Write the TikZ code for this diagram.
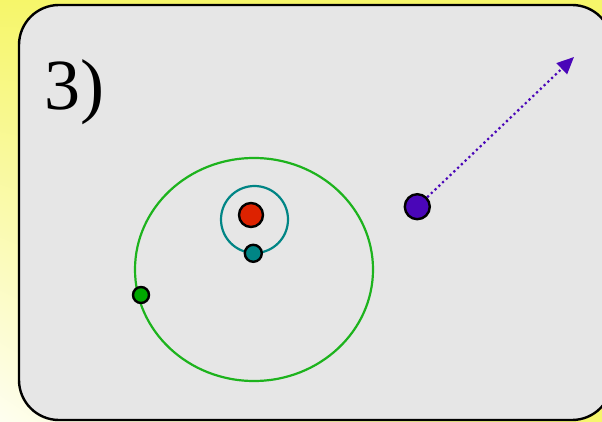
\documentclass[tikz,border=0pt]{standalone}
\usepackage{fontspec}
\setmainfont{Liberation Serif}
\usetikzlibrary{arrows.meta,shadings}
\definecolor{bgyel}{HTML}{F6F66A}
\definecolor{bgpale}{HTML}{FEFEF0}
\definecolor{panel}{HTML}{E6E6E6}
\definecolor{orbgreen}{HTML}{1DB31D}
\definecolor{dotgreen}{HTML}{00A800}
\definecolor{tealc}{HTML}{008585}
\definecolor{redc}{HTML}{DD2200}
\definecolor{purp}{HTML}{4A06B8}
\begin{document}
\begin{tikzpicture}[x=1pt,y=-1pt,
  orbit/.style={line width=2.2pt},
  body/.style={circle,draw=black,line width=2.4pt,inner sep=0pt},
  label3/.style={font=\fontsize{72}{72}\selectfont,inner sep=0pt}]
\useasboundingbox (0,0) rectangle (602,422);
\shade[upper left=bgyel,upper right=bgyel,lower left=bgpale,lower right=bgyel] (0,0) rectangle (602,422);
\draw[fill=panel,line width=2.4pt,rounded corners=40pt] (19,5) rectangle (612,420);
\node[label3] (lbl) at (74,92) {3)};
\draw[orbit,orbgreen] (254,269.5) ellipse [x radius=119, y radius=111.5];
\draw[orbit,tealc] (254.5,219.5) ellipse [x radius=33.5, y radius=33.5];
\node[body,fill=redc,minimum size=24pt] (sun) at (251,215) {};
\node[body,fill=tealc,minimum size=17pt] (moon) at (253.3,253.3) {};
\node[body,fill=dotgreen,minimum size=16pt] (pg) at (141,295) {};
\node[body,fill=purp,minimum size=25pt] (pp) at (417.3,206.7) {};
\coordinate (tip) at (574,57);
\draw[purp,line width=2.2pt,dash pattern=on 2.2pt off 3pt,-{Triangle[length=17pt,width=15pt]}] (pp) -- (tip);
\end{tikzpicture}
\end{document}
